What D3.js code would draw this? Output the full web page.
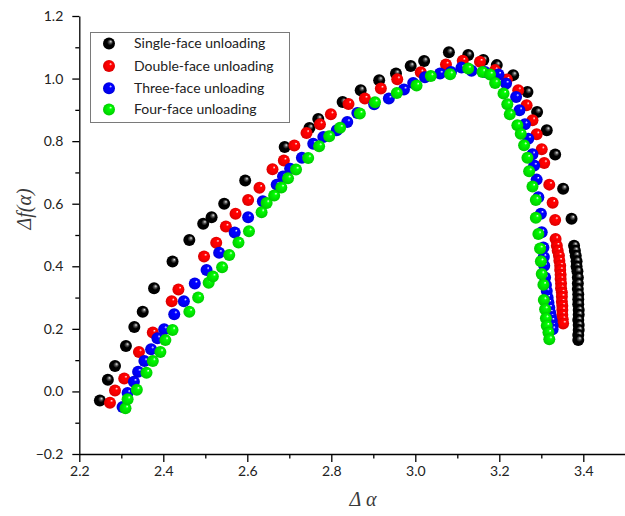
<!DOCTYPE html>
<html>
<head>
<meta charset="utf-8">
<script src="https://cdn.jsdelivr.net/npm/d3@7"></script>
<style>
  html, body { margin: 0; padding: 0; background: #fff; }
  svg { display: block; }
</style>
</head>
<body>
<svg id="chart" width="625" height="516"></svg>
<script>
// ---- data ----
const seriesNames = ["Single-face unloading", "Double-face unloading", "Three-face unloading", "Four-face unloading"];
const seriesColors = ["#000000", "#ff0000", "#0000ff", "#00ee00"];

const singleFace = [
  [2.249,-0.029],[2.268,0.037],[2.285,0.081],[2.311,0.145],[2.331,0.206],[2.351,0.255],[2.378,0.330],
  [2.422,0.415],[2.462,0.484],[2.495,0.536],[2.515,0.557],[2.545,0.600],[2.595,0.674],[2.689,0.781],
  [2.748,0.842],[2.769,0.871],[2.827,0.925],[2.870,0.963],[2.914,0.995],[2.954,1.016],[2.989,1.040],
  [3.021,1.056],[3.080,1.084],[3.126,1.075],[3.162,1.059],[3.194,1.043],[3.233,1.011],[3.267,0.957],
  [3.290,0.893],[3.313,0.835],[3.333,0.757],[3.352,0.648],[3.372,0.552],
  [3.378,0.466],[3.380,0.450],[3.382,0.434],[3.384,0.416],[3.384,0.399],[3.386,0.384],[3.387,0.364],
  [3.387,0.345],[3.387,0.327],[3.388,0.311],[3.388,0.295],[3.388,0.279],[3.389,0.260],[3.389,0.245],
  [3.388,0.228],[3.389,0.212],[3.389,0.196],[3.388,0.180],[3.388,0.164]
];
const doubleFace = [
  [2.273,-0.036],[2.285,0.003],[2.307,0.041],[2.342,0.126],[2.375,0.188],[2.420,0.288],[2.436,0.326],
  [2.497,0.431],[2.526,0.475],[2.549,0.527],[2.572,0.568],[2.602,0.612],[2.629,0.651],[2.660,0.710],
  [2.687,0.738],[2.712,0.786],[2.741,0.826],[2.773,0.854],[2.799,0.886],[2.841,0.919],[2.880,0.936],
  [2.918,0.968],[2.957,0.998],[3.013,1.020],[3.073,1.045],[3.113,1.057],[3.154,1.054],[3.190,1.027],
  [3.218,0.997],[3.245,0.963],[3.265,0.915],[3.279,0.867],[3.289,0.822],[3.301,0.774],[3.307,0.730],
  [3.319,0.661],[3.327,0.603],[3.333,0.548],
  [3.334,0.487],[3.337,0.466],[3.339,0.450],[3.342,0.434],[3.343,0.418],[3.345,0.402],[3.345,0.388],
  [3.346,0.373],[3.346,0.359],[3.347,0.345],[3.347,0.330],[3.349,0.316],[3.349,0.303],[3.349,0.287],
  [3.350,0.274],[3.350,0.260],[3.350,0.245],[3.351,0.231],[3.352,0.217]
];
const threeFace = [
  [2.303,-0.050],[2.315,-0.005],[2.330,0.031],[2.340,0.063],[2.355,0.097],[2.371,0.135],[2.386,0.170],
  [2.402,0.199],[2.426,0.247],[2.449,0.288],[2.475,0.345],[2.503,0.388],[2.533,0.443],[2.570,0.508],
  [2.602,0.557],[2.637,0.608],[2.670,0.661],[2.685,0.687],[2.702,0.712],[2.730,0.747],[2.757,0.792],
  [2.781,0.813],[2.813,0.835],[2.838,0.861],[2.862,0.890],[2.902,0.918],[2.937,0.936],[2.973,0.965],
  [2.995,0.986],[3.023,1.004],[3.059,1.016],[3.085,1.021],[3.110,1.035],[3.134,1.025],[3.166,1.021],
  [3.198,1.013],[3.216,0.984],[3.240,0.941],[3.248,0.899],[3.261,0.854],[3.269,0.808],[3.279,0.758],
  [3.283,0.722],[3.289,0.677],[3.293,0.621],[3.299,0.568],[3.301,0.509],[3.305,0.460],[3.306,0.430],
  [3.307,0.402],[3.309,0.364],[3.311,0.340],[3.313,0.321],[3.315,0.300],[3.317,0.284],[3.319,0.268],
  [3.321,0.252],[3.323,0.238],[3.325,0.226],[3.327,0.210],[3.327,0.199]
];
const fourFace = [
  [2.310,-0.054],[2.315,-0.025],[2.337,0.005],[2.360,0.060],[2.375,0.097],[2.393,0.126],[2.405,0.164],
  [2.422,0.196],[2.462,0.255],[2.483,0.300],[2.508,0.347],[2.518,0.367],[2.540,0.397],[2.557,0.436],
  [2.579,0.476],[2.604,0.512],[2.634,0.573],[2.646,0.602],[2.664,0.626],[2.681,0.652],[2.697,0.681],
  [2.716,0.709],[2.745,0.746],[2.771,0.784],[2.795,0.816],[2.821,0.843],[2.868,0.888],[2.904,0.924],
  [2.956,0.954],[3.003,0.978],[3.037,1.008],[3.083,1.014],[3.126,1.032],[3.160,1.021],[3.178,1.013],
  [3.190,0.986],[3.210,0.952],[3.219,0.918],[3.225,0.886],[3.243,0.851],[3.251,0.824],[3.259,0.787],
  [3.267,0.747],[3.271,0.704],[3.279,0.655],[3.287,0.612],[3.287,0.555],[3.293,0.503],[3.297,0.457],
  [3.299,0.416],[3.301,0.375],[3.305,0.341],[3.306,0.292],[3.309,0.263],[3.311,0.234],[3.313,0.210],
  [3.317,0.188],[3.319,0.167]
];
const allSeries = [singleFace, doubleFace, threeFace, fourFace];

const xTicks = [2.2, 2.4, 2.6, 2.8, 3.0, 3.2, 3.4];
const xMinorTicks = [2.3, 2.5, 2.7, 2.9, 3.1, 3.3, 3.5];
const yTicks = [-0.2, 0.0, 0.2, 0.4, 0.6, 0.8, 1.0, 1.2];
const yMinorTicks = [-0.1, 0.1, 0.3, 0.5, 0.7, 0.9, 1.1];
const xTitle = "Δ α";

// ---- drawing ----
const svg = d3.select("#chart");
const x = d3.scaleLinear().domain([2.2, 3.5]).range([79.3, 625.3]);
const y = d3.scaleLinear().domain([-0.2, 1.2]).range([454, 16]);

const defs = svg.append("defs");
seriesColors.forEach((c, i) => {
  const g = defs.append("radialGradient")
    .attr("id", "ball" + i)
    .attr("cx", "0.5").attr("cy", "0.5").attr("r", "0.55")
    .attr("fx", "0.66").attr("fy", "0.32");
  const base = d3.color(c);
  const hi = i === 0 ? "#e8e8e8" : "#ffffff";
  g.append("stop").attr("offset", "0%").attr("stop-color", hi);
  g.append("stop").attr("offset", "22%").attr("stop-color", i === 0 ? "#555" : base.brighter(0.6).formatHex());
  g.append("stop").attr("offset", "45%").attr("stop-color", c);
  g.append("stop").attr("offset", "100%").attr("stop-color", base.darker(i === 0 ? 0 : 0.5).formatHex());
});

// axes
const axisFont = "Lato, 'Open Sans', sans-serif";
const fmt = d3.format(".1f");

const gx = svg.append("g").attr("transform", `translate(0,${y(-0.2)})`)
  .call(d3.axisBottom(x).tickValues(xTicks).tickFormat(fmt).tickSize(8).tickSizeOuter(0).tickPadding(4));
svg.append("g").attr("transform", `translate(0,${y(-0.2)})`)
  .call(d3.axisBottom(x).tickValues(xMinorTicks).tickFormat("").tickSize(4.5).tickSizeOuter(0))
  .select(".domain").remove();

const gy = svg.append("g").attr("transform", `translate(${x(2.2)},0)`)
  .call(d3.axisLeft(y).tickValues(yTicks).tickFormat(fmt).tickSize(7).tickSizeOuter(0).tickPadding(9));
svg.append("g").attr("transform", `translate(${x(2.2)},0)`)
  .call(d3.axisLeft(y).tickValues(yMinorTicks).tickFormat("").tickSize(4).tickSizeOuter(0))
  .select(".domain").remove();

svg.selectAll(".domain, .tick line").attr("stroke", "#000").attr("stroke-width", 1.3);
svg.selectAll(".tick text").attr("font-family", axisFont).attr("font-size", 14).attr("fill", "#222");

// axis titles
svg.append("text")
  .attr("transform", "translate(31,209) rotate(-90)")
  .attr("text-anchor", "middle")
  .attr("font-family", "'Liberation Serif', 'DejaVu Serif', serif")
  .attr("font-style", "italic")
  .attr("font-size", 20)
  .attr("fill", "#3a3a3a")
  .text("Δf(α)");

svg.append("text")
  .attr("x", 363).attr("y", 506)
  .attr("text-anchor", "middle")
  .attr("font-family", "'Liberation Serif', 'DejaVu Serif', serif")
  .attr("font-style", "italic")
  .attr("font-size", 20)
  .attr("fill", "#3a3a3a")
  .text(xTitle);

// points
allSeries.forEach((data, i) => {
  svg.append("g").selectAll("circle").data(data).join("circle")
    .attr("cx", d => x(d[0]))
    .attr("cy", d => y(d[1]))
    .attr("r", 6)
    .attr("fill", `url(#ball${i})`);
});

// legend
const legend = svg.append("g");
legend.append("rect")
  .attr("x", 90.5).attr("y", 32.5).attr("width", 199).attr("height", 90)
  .attr("fill", "#fff").attr("stroke", "#7a7a7a").attr("stroke-width", 1);
const legY = [43.5, 66, 88.3, 109.5];
seriesNames.forEach((name, i) => {
  legend.append("circle").attr("cx", 109).attr("cy", legY[i]).attr("r", 6).attr("fill", `url(#ball${i})`);
  legend.append("text").attr("x", 134).attr("y", legY[i]).attr("dy", "0.35em")
    .attr("font-family", axisFont).attr("font-size", 14).attr("fill", "#222")
    .text(name);
});
</script>
</body>
</html>
